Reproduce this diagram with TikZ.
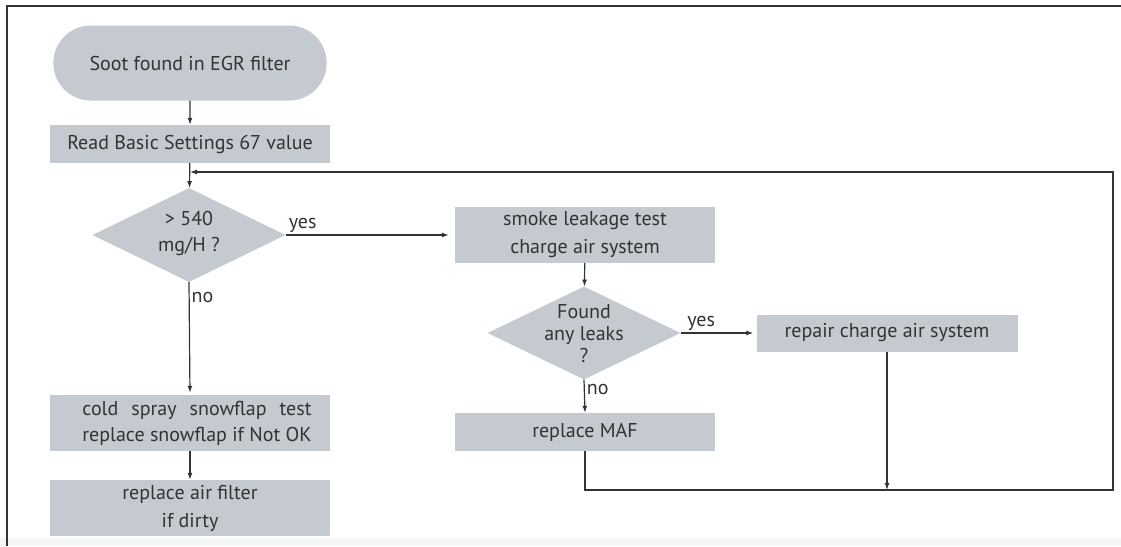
\documentclass[tikz,border=0pt]{standalone}
\usepackage{fontspec}
\setmainfont{PT Sans}
\usepackage{tikz}
\usetikzlibrary{shapes.geometric,shapes.misc,arrows.meta}
\usetikzlibrary{positioning}

\definecolor{boxgrey}{HTML}{C5CAD0}
\definecolor{inkgrey}{HTML}{333333}
\definecolor{bandgrey}{HTML}{F6F6F6}

\newsavebox\snowbox

\tikzset{
  terminal/.style={rounded rectangle, fill=boxgrey, minimum width=280pt, minimum height=75pt},
  process/.style={rectangle, fill=boxgrey, minimum height=38pt, align=center},
  decision/.style={diamond, fill=boxgrey, inner sep=0pt, minimum width=193pt, minimum height=94pt},
  flow/.style={draw=inkgrey, line width=1.2pt},
  answer/.style={text=inkgrey, inner sep=2pt}
}

\begin{document}
\begin{tikzpicture}[x=1pt, y=-1pt, >={Latex[length=7pt,width=5pt]},
    font=\fontsize{20}{28}\selectfont, text=inkgrey]
  \useasboundingbox (0,0) rectangle (1121,546);
  % window frame
  \fill[bandgrey] (0,538) rectangle (1121,546);
  \draw[black!80, line width=1.5pt] (7,546) -- (7,6) -- (1121,6);

  % left column
  \node[terminal] (soot) at (190,63) {Soot found in EGR filter};
  \node[process, minimum width=280pt] (basic) at (190,144) {Read Basic Settings 67 value};
  \node[decision] (limit) at (189,235) {};
  \node[align=center, font=\fontsize{20}{26}\selectfont] at ([yshift=2pt]limit.center) {> 540\\mg/H ?};
  \node[process, minimum width=280pt, minimum height=56pt] (snowflap) at (190,423) {};
  \node[align=center, font=\fontsize{20}{26}\selectfont] at ([xshift=7pt]snowflap.center)
    {\global\setbox\snowbox\hbox{replace snowflap if Not OK}\makebox[\wd\snowbox][s]{cold spray snowflap test}\\\usebox\snowbox};
  \node[process, minimum width=280pt, minimum height=56pt] (airfilter) at (190,508) {replace air filter\\if dirty};

  % right part
  \node[process, minimum width=260pt, minimum height=56pt] (smoke) at (585,235) {smoke leakage test\\charge air system};
  \node[decision, minimum height=93pt] (leaks) at (584,333) {};
  \node[align=center, font=\fontsize{20}{22}\selectfont] at ([yshift=-1pt]leaks.center) {Found\\any leaks\\?};
  \node[process, minimum width=261pt, minimum height=37pt] (repair) at (887,333) {repair charge air system};
  \node[process, minimum width=260pt] (maf) at (585,432) {replace MAF};

  \coordinate (rb) at (1113,490);
  \coordinate (rt) at (1113,172);

  \path[flow, ->]
  (soot) -- (basic);
  \path[flow, ->]
  (basic) -- (limit);
  \path[flow, ->, shorten >=6pt]
  (limit.east) -- node[answer, pos=0.1, above] {yes} (smoke.west);
  \path[flow, ->, shorten >=2pt]
  (limit.south) -- node[answer, pos=0.14, right] {no} (snowflap.north);
  \path[flow, ->]
  (snowflap) -- (airfilter);
  \path[flow, ->]
  (smoke) -- (leaks);
  \path[flow, ->, shorten >=3pt]
  (leaks.east) -- node[answer, pos=0.27, above] {yes} (repair.west);
  \path[flow, ->]
  (leaks.south) -- node[answer, pos=0.3, right] {no} (maf.north);

  % back to the first check
  \path[flow, ->]
  (repair.south) -- (repair.south |- rb);
  \path[flow, ->]
  (maf.south) |- (rb) -- (rt) -- (basic.south |- rt);
\end{tikzpicture}
\end{document}
